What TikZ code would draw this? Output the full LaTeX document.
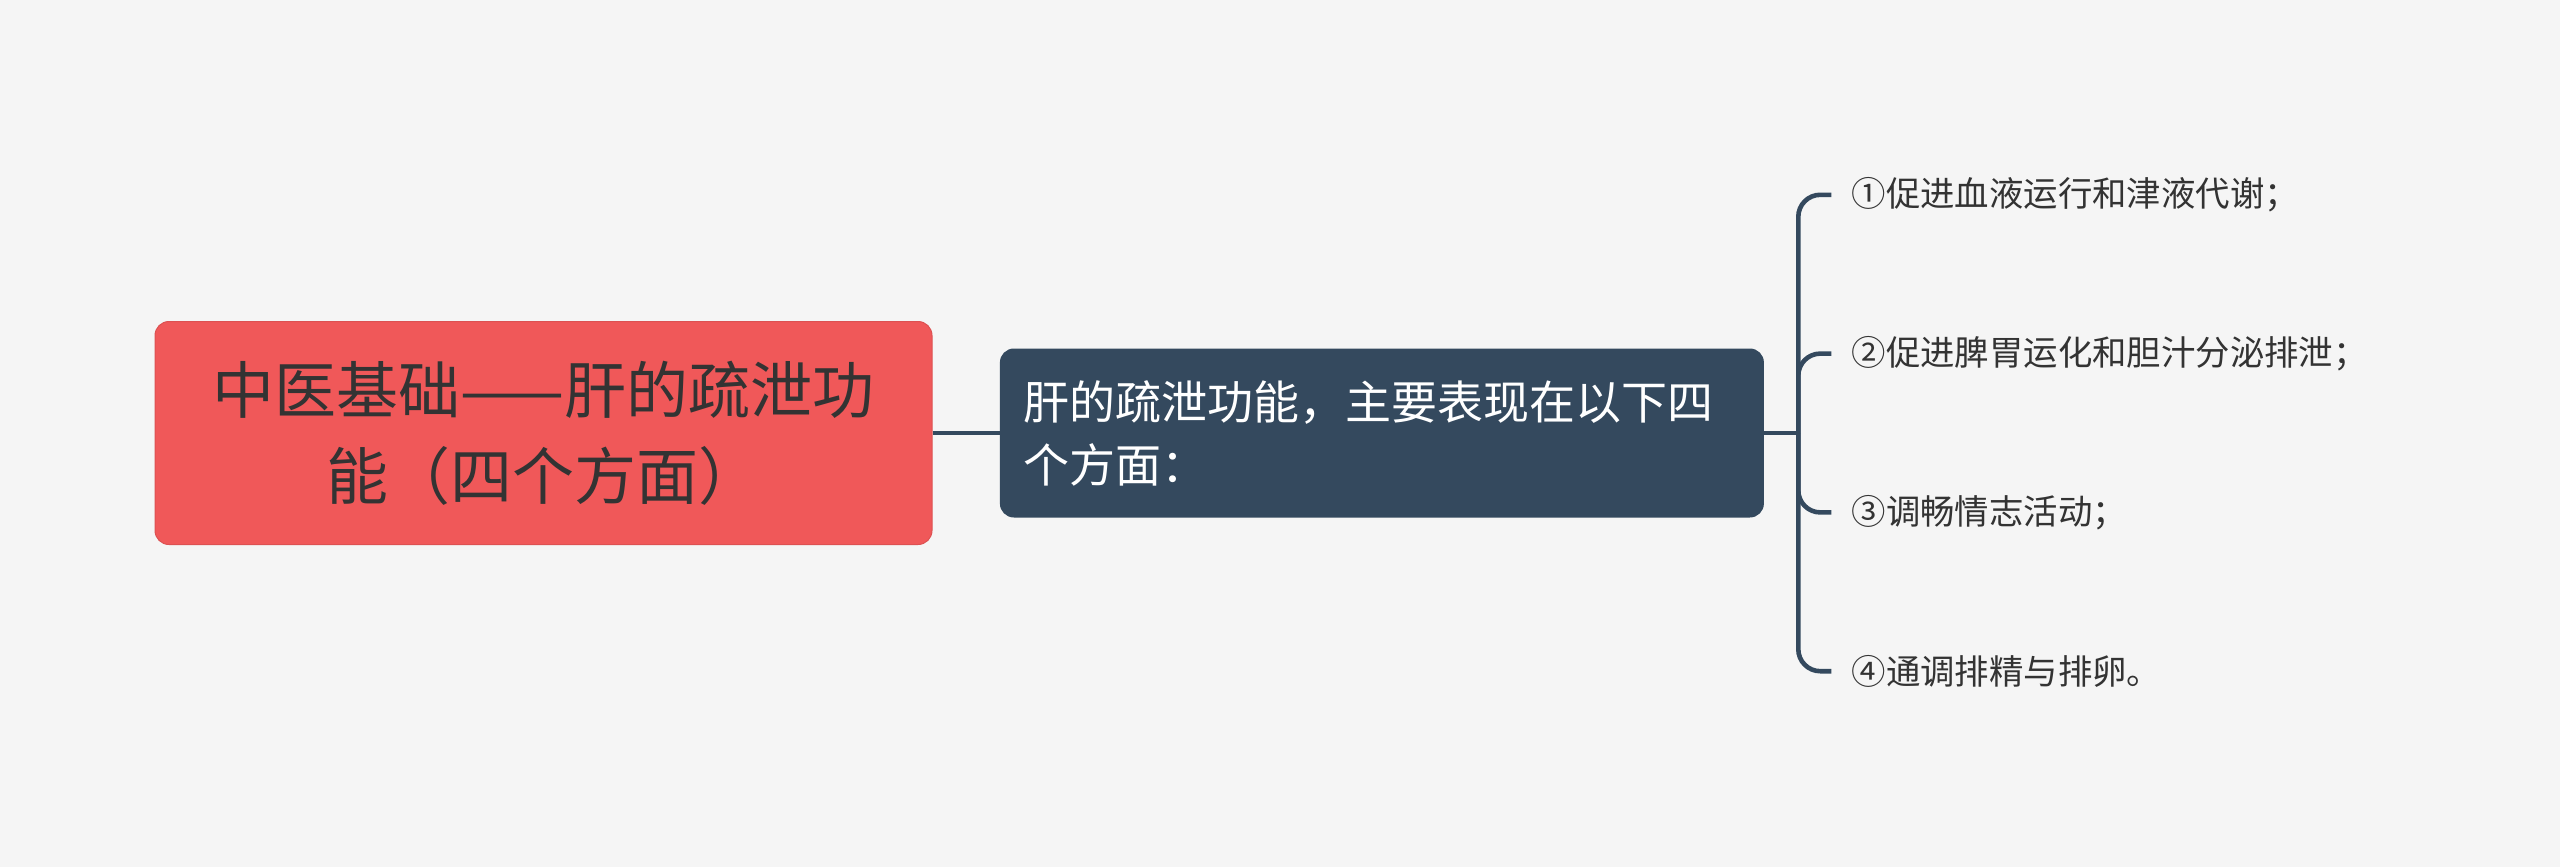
\documentclass[tikz,border=0pt]{standalone}
\usepackage{fontspec}
\setmainfont{Noto Sans CJK SC}
\usetikzlibrary{positioning}
\definecolor{bgc}{HTML}{F5F5F5}
\definecolor{rootred}{HTML}{F05859}
\definecolor{slate}{HTML}{34495E}
\definecolor{inkgray}{HTML}{333333}

\begin{document}
\begin{tikzpicture}[
      x=0.5pt, y=-0.5pt,
      branch/.style={draw=slate, line width=2.3pt, rounded corners=11pt},
      rootbox/.style={fill=rootred, draw=rootred!92!black, line width=.5pt,
          rounded corners=7pt, minimum width=388.5pt, minimum height=111.5pt,
          inner sep=0pt, align=center, text=inkgray,
          font=\fontsize{31pt}{43pt}\selectfont},
      subbox/.style={fill=slate, rounded corners=7pt, minimum width=382pt,
          minimum height=84.5pt, inner xsep=12pt, inner ysep=0pt,
          text width=358pt, align=left, text=white,
          font=\fontsize{23pt}{31.5pt}\selectfont},
      leaf/.style={anchor=west, inner xsep=10pt, inner ysep=0pt, text=inkgray,
          font=\fontsize{17.2pt}{20pt}\selectfont}
    ]
    \fill[bgc] (0,0) rectangle (2560,867);
    \useasboundingbox (0,0) rectangle (2560,867);

    \node[rootbox] (root) at (543.5,433) {中医基础——肝的疏泄功\\能（四个方面）};
    \node[subbox, right=33.5pt of root] (func) {肝的疏泄功能，主要表现在以下四\\个方面：};
    \coordinate[right=17pt of func] (fork);

    \draw[branch] (root) -- (func);
    \draw[branch] (func) -- (fork);

    % four leaves hanging off the bracket
    \foreach \txt [count=\i] in {①促进血液运行和津液代谢；, ②促进脾胃运化和胆汁分泌排泄；,
        ③调畅情志活动；, ④通调排精与排卵。}{
        \node[leaf, right=16.5pt of fork, yshift={(2.5-\i)*79.4pt}] (leaf\i) {\txt};
        \draw[branch] (fork) |- (leaf\i.west);
    }
  \end{tikzpicture}
\end{document}
